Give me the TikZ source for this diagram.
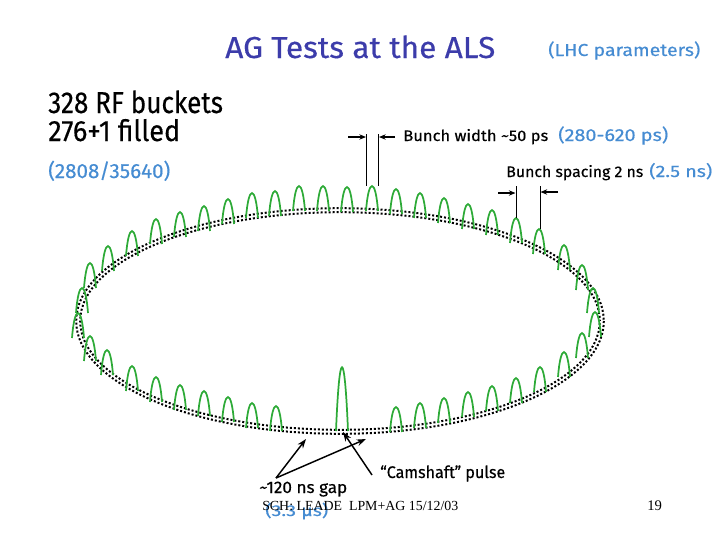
\documentclass[tikz,border=0pt]{standalone}
\usepackage{fontspec}
\usepackage{graphicx}
\setmainfont{Fira Sans}[FakeBold=0.4]
\newfontfamily\footfont{Liberation Serif}
\usetikzlibrary{arrows.meta}
\definecolor{titleblue}{RGB}{60,60,170}
\definecolor{lblue}{RGB}{70,140,210}
\definecolor{bgreen}{RGB}{45,170,55}
\newcommand{\wfit}[2]{\resizebox{#1}{!}{#2}}
\newcommand{\whfit}[3]{\resizebox{#1}{#2}{#3}}
\begin{document}
\begin{tikzpicture}[x=0.75pt,y=-0.75pt,
  txt/.style={inner sep=0pt, anchor=base west},
  bunch/.style={draw=bgreen, line width=1.3pt},
  ringdot/.style={line width=1.5pt, dash pattern=on 1.5pt off 1.5pt},
  dimline/.style={line width=0.6pt},
  dimarrow/.style={line width=0.8pt, -{Stealth[length=5pt,width=4pt]}},
  callout/.style={line width=1.1pt, -{Stealth[length=7pt,width=5pt]}}]
\useasboundingbox (0,0) rectangle (720,540);

% ring
\coordinate (rc) at (340,321);
\draw[ringdot] (rc) ellipse [x radius=263.8, y radius=112.8];
\draw[ringdot, dash phase=1.5pt] (rc) ellipse [x radius=259.8, y radius=108.8];

% bunches (peak positions)
\foreach \x/\y in {82/288, 90/263, 108/246, 132/231, 156/219, 180/212, 204/206, 228/199,
  252/193, 275/191, 299/186, 323/186, 347/187, 372/186, 396/189, 420/193, 444/198,
  468/204, 492/210, 516/218, 539/229, 564/245, 582/265, 593/288, 595/312,
  78/313, 90/336, 107/350, 132/366, 156/377, 180/385, 204/391, 228/397, 252/403, 276/406,
  396/407, 420/403, 444/398, 468/392, 492/386, 516/378, 540/367, 564/352, 582/333}
  \draw[bunch] (\x-6,\y+25) .. controls (\x-3.5,\y-8.3) and (\x+3.5,\y-8.3) .. (\x+6,\y+25);
% camshaft bunch
\draw[bunch] (336,431) .. controls (339.5,346) and (344.5,346) .. (348,431);

% texts
\node[txt, text=titleblue] (title) at (225,58) {\whfit{202.5pt}{17pt}{AG Tests at the ALS}};
\node[txt, text=lblue] (lhc) at (548,56) {\whfit{114pt}{11pt}{(LHC parameters)}};
\node[txt] (rf) at (48,113) {\whfit{131pt}{17pt}{328 RF buckets}};
\node[txt] (filled) at (48,141) {\whfit{99pt}{16.5pt}{276+1 filled}};
\node[txt, text=lblue] (lhcfill) at (48,178) {\whfit{91.5pt}{13pt}{(2808/35640)}};
\node[txt] (bw) at (403,141) {\whfit{108.75pt}{9pt}{Bunch width \textasciitilde50 ps}};
\node[txt, text=lblue] (bwl) at (558,141) {\whfit{82.5pt}{11pt}{(280-620 ps)}};
\node[txt] (bs) at (506,177) {\whfit{102.75pt}{9pt}{Bunch spacing 2 ns}};
\node[txt, text=lblue] (bsl) at (649,177) {\whfit{47.25pt}{10.5pt}{(2.5 ns)}};
\node[txt] (cam) at (380,478) {\whfit{93.75pt}{9.5pt}{“Camshaft” pulse}};
\node[txt] (gap) at (259,493) {\whfit{66pt}{8.5pt}{\textasciitilde120 ns gap}};
\node[txt, text=lblue] (gapl) at (265,516) {\whfit{47.25pt}{10pt}{(3.3 μs)}};
\node[txt] (foot) at (262,510) {\wfit{147pt}{\footfont SCH: LEADE\ \ LPM+AG 15/12/03}};
\node[txt] (page) at (647,510) {\wfit{11pt}{\footfont 19}};

% bunch width dimension
\coordinate (bwat) at (366.5,134);
\coordinate (bwab) at (366.5,186);
\coordinate (bwbt) at (378.5,134);
\coordinate (bwbb) at (378.5,186);
\draw[dimline] (bwat) -- (bwab);
\draw[dimline] (bwbt) -- (bwbb);
\coordinate (bwl1) at (348,137);
\coordinate (bwl2) at (366,137);
\coordinate (bwr1) at (395,137);
\coordinate (bwr2) at (379,137);
\draw[dimarrow] (bwl1) -- (bwl2);
\draw[dimarrow] (bwr1) -- (bwr2);

% bunch spacing dimension
\coordinate (bsat) at (516,186);
\coordinate (bsab) at (516,218);
\coordinate (bsbt) at (540,186);
\coordinate (bsbb) at (540,229);
\draw[dimline] (bsat) -- (bsab);
\draw[dimline] (bsbt) -- (bsbb);
\coordinate (bsl1) at (498,193);
\coordinate (bsl2) at (515.5,193);
\coordinate (bsr1) at (558,192);
\coordinate (bsr2) at (540.5,192);
\draw[dimarrow] (bsl1) -- (bsl2);
\draw[dimarrow] (bsr1) -- (bsr2);

% callouts
\coordinate (gapo) at (276,478);
\coordinate (gapa) at (306,439);
\coordinate (gapb) at (366,439);
\coordinate (camo) at (372,475);
\coordinate (cama) at (343,432);
\draw[callout] (gapo) -- (gapa);
\draw[callout] (gapo) -- (gapb);
\draw[callout] (camo) -- (cama);
\end{tikzpicture}
\end{document}
